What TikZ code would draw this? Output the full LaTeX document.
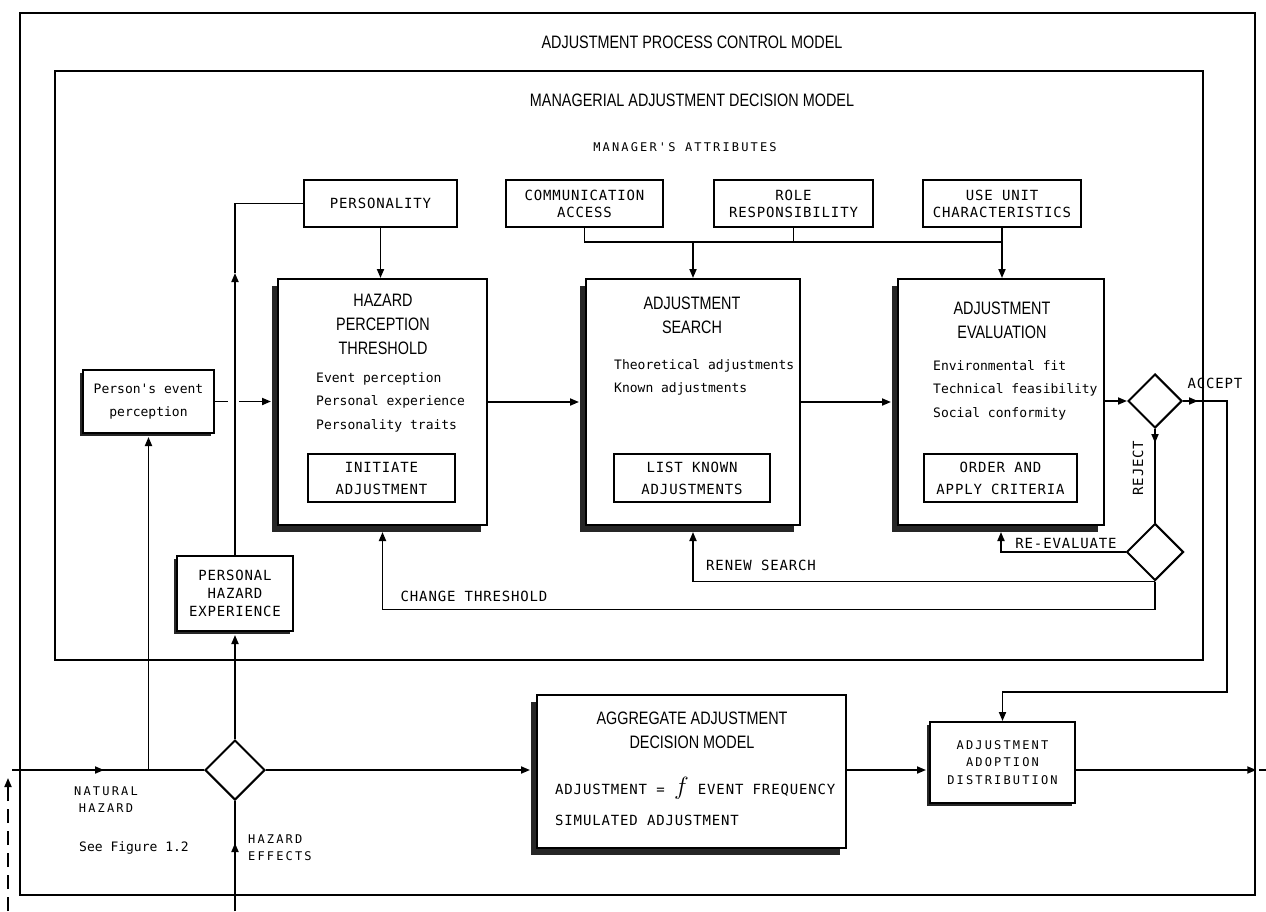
\documentclass[tikz,border=0pt]{standalone}
\usepackage{fontspec}
\usetikzlibrary{arrows.meta,shapes.geometric,shadows,calc}
\newfontfamily\hdf[FakeStretch=0.8]{Liberation Sans}
\newfontfamily\twf{DejaVu Sans Mono}
\newfontfamily\twcf[LetterSpace=6]{DejaVu Sans Mono}
\newfontfamily\twsf[LetterSpace=18]{DejaVu Sans Mono}
\begin{document}
\begin{tikzpicture}[x=1pt,y=-1pt,
  frm/.style={draw, line width=2.6pt, inner sep=0pt},
  box/.style={draw, fill=white, line width=2pt, inner sep=0pt},
  shad/.style={drop shadow={shadow xshift=-6pt, shadow yshift=-7pt, fill=black!85, opacity=1}},
  shads/.style={drop shadow={shadow xshift=-3pt, shadow yshift=-3pt, fill=black!85, opacity=1}},
  dia/.style={draw, diamond, aspect=1, inner sep=0pt, line width=2pt, fill=white},
  hdt/.style={font=\hdf\fontsize{18}{24}\selectfont, inner sep=0pt, align=center},
  capt/.style={font=\twcf\fontsize{14}{17}\selectfont, inner sep=0pt, align=center},
  capwide/.style={font=\twcf\fontsize{14}{22}\selectfont, inner sep=0pt, align=center},
  smt/.style={font=\twsf\fontsize{12}{17}\selectfont, inner sep=0pt, align=center},
  lct/.style={font=\twf\fontsize{13}{23.5}\selectfont, inner sep=0pt, align=left},
  con/.style={line width=1.8pt},
  arr/.style={con, -{Triangle[length=9pt,width=7pt]}},
]
\useasboundingbox (0,0) rectangle (1266,911);

% frames
\node[frm, minimum width=1235pt, minimum height=882pt] (outer) at (637.5,454) {};
\node[frm, minimum width=1148pt, minimum height=589pt] (inner) at (629,365.5) {};

% titles
\node[hdt] (t1) at (692,42) {ADJUSTMENT PROCESS CONTROL MODEL};
\node[hdt] (t2) at (692,100) {MANAGERIAL ADJUSTMENT DECISION MODEL};
\node[smt] (t3) at (685,147) {MANAGER'S ATTRIBUTES};

% attribute boxes
\node[box, capt, minimum width=153pt, minimum height=47pt] (pers) at (380.5,203.5) {PERSONALITY};
\node[box, capt, minimum width=157pt, minimum height=47pt] (comm) at (584.5,203.5) {COMMUNICATION\\ACCESS};
\node[box, capt, minimum width=159pt, minimum height=47pt] (role) at (793.5,203.5) {ROLE\\RESPONSIBILITY};
\node[box, capt, minimum width=158pt, minimum height=47pt] (useu) at (1002,203.5) {USE UNIT\\CHARACTERISTICS};

% main process boxes
\node[box, shad, minimum width=209pt, minimum height=246pt] (hpt) at (382.5,402) {};
\node[box, shad, minimum width=214pt, minimum height=246pt] (search) at (693,402) {};
\node[box, shad, minimum width=206pt, minimum height=246pt] (eval) at (1001,402) {};

\node[hdt] (hptt) at (383,324) {HAZARD\\PERCEPTION\\THRESHOLD};
\node[lct, anchor=west] (hpti) at (316,402) {Event perception\\Personal experience\\Personality traits};
\node[box, capwide, minimum width=147pt, minimum height=48pt] (init) at (381.5,478) {INITIATE\\ADJUSTMENT};

\node[hdt] (searcht) at (692,315) {ADJUSTMENT\\SEARCH};
\node[lct, anchor=west] (searchi) at (614,377.5) {Theoretical adjustments\\Known adjustments};
\node[box, capwide, minimum width=156pt, minimum height=48pt] (list) at (692,478) {LIST KNOWN\\ADJUSTMENTS};

\node[hdt] (evalt) at (1002,320) {ADJUSTMENT\\EVALUATION};
\node[lct, anchor=west] (evali) at (933,390) {Environmental fit\\Technical feasibility\\Social conformity};
\node[box, capwide, minimum width=153pt, minimum height=48pt] (order) at (1000.5,478) {ORDER AND\\APPLY CRITERIA};

% side boxes
\node[box, shads, lct, align=center, minimum width=131pt, minimum height=63pt] (pep) at (148.5,401.5) {Person's event\\perception};
\node[box, shads, font=\twcf\fontsize{14}{18}\selectfont, align=center, minimum width=116pt, minimum height=75pt] (phe) at (235,593.5) {PERSONAL\\HAZARD\\EXPERIENCE};

% diamonds
\node[dia, minimum width=54pt, minimum height=54pt] (d1) at (1155,401) {};
\node[dia, minimum width=57pt, minimum height=57pt] (d2) at (1155,552) {};
\node[dia, minimum width=60pt, minimum height=60pt] (dh) at (235,770) {};

% aggregate model
\node[box, shad, minimum width=309pt, minimum height=153pt] (agg) at (691.5,771.5) {};
\node[hdt] (aggt) at (692,730.5) {AGGREGATE ADJUSTMENT\\DECISION MODEL};
\node[capt, anchor=west] (agg1) at (555,788) {ADJUSTMENT = {\fontsize{26}{26}\selectfont$f$} EVENT FREQUENCY};
\node[capt, anchor=west] (agg2) at (555,820) {SIMULATED ADJUSTMENT};

\node[box, shads, font=\twsf\fontsize{12}{17.5}\selectfont, align=center, minimum width=145pt, minimum height=81pt] (adop) at (1002.5,762.5) {ADJUSTMENT\\ADOPTION\\DISTRIBUTION};

% labels
\node[capt] (acc) at (1215,383) {ACCEPT};
\node[capt, rotate=90] (rej) at (1138,468) {REJECT};
\node[capt] (reev) at (1066,543) {RE-EVALUATE};
\node[capt] (renew) at (761,565) {RENEW SEARCH};
\node[capt] (chg) at (474,596) {CHANGE THRESHOLD};
\node[smt] (nat) at (106,800) {NATURAL\\HAZARD};
\node[lct] (see) at (134,848) {See Figure 1.2};
\node[smt, align=left, anchor=west] (heff) at (248,848) {HAZARD\\EFFECTS};

% coordinates
\coordinate (jr) at (1002,242);
\coordinate (m1) at (235,273);
\coordinate (a1) at (1227,401);
\coordinate (a2) at (1227,692);
\coordinate (nh0) at (12,770);
\coordinate (he0) at (235,911);
\coordinate (o1) at (1259,770);
\coordinate (o2) at (1266,770);
\coordinate (f0) at (8,911);
\coordinate (f1) at (8,778);

% attribute connectors
\draw[arr] (pers.south) -- (pers.south |- hpt.north);
\draw[con] (comm.south) |- (jr);
\draw[con] (role.south) -- (role.south |- jr);
\draw[arr] (search.north |- jr) -- (search.north);
\draw[arr] (useu.south) -- (useu.south |- eval.north);
\draw[arr] (phe.north) -- (m1);
\draw[con] (m1) |- (pers.west);

% main flow
\draw[arr, dash pattern=on 13pt off 11pt on 60pt off 0pt, shorten >=6pt] (pep.east) -- (pep.east -| hpt.west);
\draw[arr, shorten >=6pt] (hpt.east) -- (search.west);
\draw[arr, shorten >=6pt] (search.east) -- (eval.west);
\draw[arr] (eval.east |- d1.west) -- (d1.west);
\draw[con, -{Triangle[length=9pt,width=7pt]}] (d1.east) -- (a1) -- (a2) -| (adop.north);
\draw[arr] (d1.east) -- ++(15,0);
\draw[con] (d1.south) -- (d2.north);
\draw[arr] (d1.south) -- ++(0,14);
\draw[arr, shorten >=6pt] (d2.west) -| (eval.south);
\draw[arr, shorten >=6pt] (d2.south) -| (search.south);
\draw[arr, shorten >=6pt] (d2.south) -- ++(0,28) -| (hpt.south);

% bottom flow
\draw[con] (nh0) -- (dh.west);
\draw[arr] (nh0) -- (104,770);
\draw[arr, shorten >=3pt] (pep.south |- dh.west) -- (pep.south);
\draw[arr, shorten >=3pt] (dh.north) -- (phe.south);
\draw[con] (he0) -- (dh.south);
\draw[arr] (he0) -- (235,843);
\draw[arr, shorten >=6pt] (dh.east) -- (dh.east -| agg.west);
\draw[arr, shorten >=3pt] (dh.east -| agg.east) -- (dh.east -| adop.west);
\draw[arr] (dh.east -| adop.east) -- (dh.east -| outer.east);
\draw[con] (o1) -- (o2);
\draw[arr, dash pattern=on 14pt off 8pt] (f0) -- (f1);
\end{tikzpicture}
\end{document}
